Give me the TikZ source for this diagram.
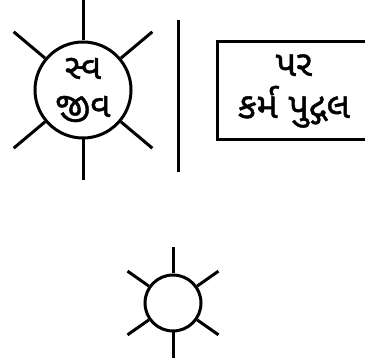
\documentclass[tikz,border=0pt]{standalone}
\usepackage{fontspec}
\newfontfamily\gujfont[Script=Gujarati,FakeBold=1.2]{Noto Sans Gujarati UI}
\usetikzlibrary{positioning}

\begin{document}
\begin{tikzpicture}[
  x=1pt, y=1pt,
  line width=3pt,
  sun/.style={draw, circle, inner sep=0pt, align=center,
              font=\gujfont\fontsize{35}{38}\selectfont},
  box/.style={draw, rectangle, inner sep=0pt, minimum width=153pt,
              minimum height=98pt, align=center,
              font=\gujfont\fontsize{36}{42}\selectfont},
  ray/.style={line width=3pt}
]
\useasboundingbox (0,0) rectangle (365,364);
%% ── big sun: self ─────────────────────────────────────────
\node[sun, minimum size=96pt] (self) at (83,274) {સ્વ\\જીવ};
\foreach \a in {40,90,140,220,270,320}
  \draw[ray] (self.\a) -- ++(\a:41);

%% ── divider ───────────────────────────────────────────────
\coordinate (divtop) at (178,344);
\coordinate (divbot) at (178,192);
\draw (divtop) -- (divbot);

%% ── other: karma box ──────────────────────────────────────
\node[box, anchor=west] (other) at (216,273) {પર\\કર્મ પુદ્ગલ};

%% ── small sun ─────────────────────────────────────────────
\node[sun, minimum size=56pt] (small) at (173,61) {};
\foreach \a in {35,90,145,215,270,325}
  \draw[ray] (small.\a) -- ++(\a:26);
\end{tikzpicture}
\end{document}
